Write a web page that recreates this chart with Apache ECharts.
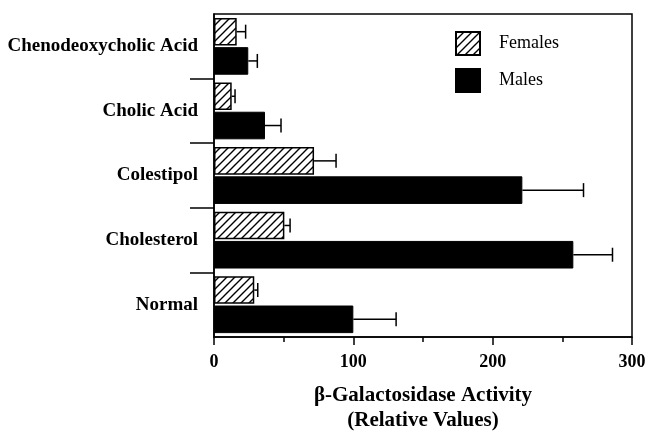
<!DOCTYPE html>
<html><head><meta charset="utf-8">
<script src="https://cdn.jsdelivr.net/npm/echarts@6/dist/echarts.min.js"></script>
<style>html,body{margin:0;padding:0;background:#fff}#c{width:650px;height:438px}</style>
</head><body><div id="c"></div>
<script>
const categories = ['Chenodeoxycholic Acid', 'Cholic Acid', 'Colestipol', 'Cholesterol', 'Normal'];
const femalesMean = [16.3, 12.7, 71.8, 50.5, 28.9];
const femalesErr  = [22.7, 15.1, 87.6, 54.6, 31.4];
const malesMean   = [24.6, 36.6, 221.3, 257.9, 100.0];
const malesErr    = [31.1, 48.1, 265.2, 286.0, 130.7];
const xTicks = [0, 100, 200, 300];
const categoryDividers = [1, 2, 3, 4];

const FONT = '"Liberation Serif", "Times New Roman", serif';

// hatch pattern
const pc = document.createElement('canvas');
pc.width = 8; pc.height = 8;
const g = pc.getContext('2d');
g.fillStyle = '#fff'; g.fillRect(0,0,8,8);
g.strokeStyle = '#000'; g.lineWidth = 1.4;
g.beginPath();
g.moveTo(-2, 10); g.lineTo(10, -2);
g.moveTo(-6, 6); g.lineTo(6, -6);
g.moveTo(2, 14); g.lineTo(14, 2);
g.stroke();
const hatch = {image: pc, repeat: 'repeat'};

const CAT_GAP = 0.12, BAR_GAP = 0.06;
function errSeries(name, means, errs, idx) {
  return {
    type: 'custom', name: name + ' err', silent: true, z: 5,
    data: means.map((m, i) => [i, m, errs[i]]),
    encode: {x: [1, 2], y: 0},
    renderItem: function (params, api) {
      const band = api.size([0, 1])[1];
      const avail = band * (1 - CAT_GAP);
      const w = avail / (2 + BAR_GAP);
      const off = (idx === 0 ? -1 : 1) * (w + w * BAR_GAP) / 2;
      const p0 = api.coord([api.value(1), api.value(0)]);
      const p1 = api.coord([api.value(2), api.value(0)]);
      const y = p0[1] + off;
      const st = {stroke: '#000', lineWidth: 1.5};
      return {type: 'group', children: [
        {type: 'line', shape: {x1: p0[0], y1: y, x2: p1[0], y2: y}, style: st},
        {type: 'line', shape: {x1: p1[0], y1: y - 7, x2: p1[0], y2: y + 7}, style: st}
      ]};
    }
  };
}

const chart = echarts.init(document.getElementById('c'), null, {renderer: 'canvas'});
chart.setOption({
  animation: false,
  backgroundColor: '#fff',
  grid: {left: 214, right: 18, top: 14, bottom: 93, show: true, borderColor: '#000', borderWidth: 1.5, backgroundColor: 'transparent'},
  legend: {
    data: ['Females', 'Males'], orient: 'vertical', left: 455, top: 31, padding: 0,
    itemWidth: 24, itemHeight: 23, itemGap: 12, icon: 'rect',
    textStyle: {fontFamily: FONT, fontSize: 18, color: '#000', padding: [0, 0, 0, 14]}
  },
  xAxis: {
    type: 'value', min: 0, max: 300, interval: 100, position: 'bottom',
    name: 'β-Galactosidase Activity\n(Relative Values)', nameLocation: 'middle', nameGap: 46,
    nameTextStyle: {fontFamily: FONT, fontSize: 21, fontWeight: 'bold', color: '#000', lineHeight: 25},
    axisLine: {show: true, onZero: false, lineStyle: {color: '#000', width: 1.5}},
    axisTick: {show: true, inside: false, length: 8, lineStyle: {color: '#000', width: 1.5}},
    minorTick: {show: true, splitNumber: 2, length: 5, lineStyle: {color: '#000', width: 1.5}},
    splitLine: {show: false},
    axisLabel: {fontFamily: FONT, fontSize: 18, fontWeight: 'bold', color: '#000', margin: 16,
      formatter: v => xTicks.includes(v) ? String(v) : ''}
  },
  yAxis: [{
    type: 'category', data: categories, inverse: true,
    axisLine: {show: true, onZero: false, lineStyle: {color: '#000', width: 1.5}},
    axisTick: {show: false},
    axisLabel: {fontFamily: FONT, fontSize: 19, fontWeight: 'bold', color: '#000', margin: 16}
  }, {
    type: 'value', min: 0, max: categories.length, inverse: true, position: 'left',
    axisLine: {show: false, onZero: false},
    axisTick: {show: true, length: 24, customValues: categoryDividers, lineStyle: {color: '#000', width: 1.5}},
    axisLabel: {show: false},
    splitLine: {show: false}
  }],
  series: [
    {type: 'bar', name: 'Females', data: femalesMean, barCategoryGap: '12%', barGap: '6%',
     itemStyle: {color: hatch, borderColor: '#000', borderWidth: 1.5}},
    {type: 'bar', name: 'Males', data: malesMean, barCategoryGap: '12%', barGap: '6%',
     itemStyle: {color: '#000', borderColor: '#000', borderWidth: 1}},
    errSeries('Females', femalesMean, femalesErr, 0),
    errSeries('Males', malesMean, malesErr, 1)
  ]
});
</script></body></html>
